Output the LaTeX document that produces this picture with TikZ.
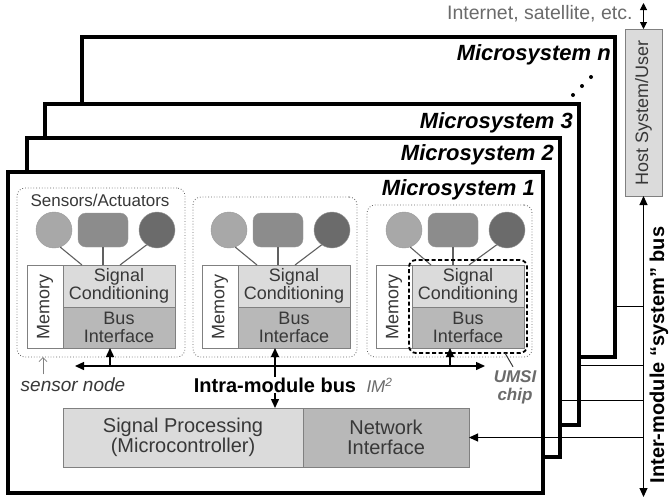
\documentclass[tikz,border=0pt]{standalone}
\usepackage{fontspec}
\setmainfont{Liberation Sans}
\usetikzlibrary{arrows.meta,positioning}
\definecolor{lightcell}{gray}{0.86}
\definecolor{darkcell}{gray}{0.72}
\definecolor{sensa}{gray}{0.66}
\definecolor{sensb}{gray}{0.55}
\definecolor{sensc}{gray}{0.42}
\definecolor{inkgray}{gray}{0.22}
\definecolor{notegray}{gray}{0.42}

\begin{document}
\begin{tikzpicture}[x=1pt,y=-1pt,>={Triangle[length=9pt,width=8pt]},
    frame/.style={draw,line width=3.2pt,fill=white,inner sep=0pt,outer sep=0pt,anchor=north west},
    mslabel/.style={font=\fontsize{22}{22}\selectfont\bfseries\itshape,anchor=east,inner sep=0pt},
    nodebox/.style={draw=gray!80!black,dotted,line width=0.8pt,rounded corners=8pt,inner sep=0pt,outer sep=0pt,anchor=north west},
    cell/.style={draw=gray,inner sep=0pt,outer sep=0pt,anchor=north west,align=center,text=inkgray,
        font=\fontsize{18}{18}\selectfont},
    sensor/.style={draw=gray!80,inner sep=0pt},
    wire/.style={draw=inkgray!80,line width=1.1pt},
    bus/.style={line width=1.4pt},
    link/.style={line width=1pt}]

\useasboundingbox (0,0) rectangle (669,499);

% microsystem frames, back to front
\node[frame,minimum width=533,minimum height=320] (msn) at (82,37) {};
\node[mslabel] at ([xshift=-4pt,yshift=-18pt]msn.north east) {Microsystem n};
\fill (573,95) circle (2) (582,86) circle (2) (591,77) circle (2);
\node[frame,minimum width=534,minimum height=321] (ms3) at (45,104) {};
\node[mslabel] at ([xshift=-6pt,yshift=-19pt]ms3.north east) {Microsystem 3};
\node[frame,minimum width=533,minimum height=319] (ms2) at (27,138) {};
\node[mslabel] at ([xshift=-6pt,yshift=-17pt]ms2.north east) {Microsystem 2};
\node[frame,minimum width=535,minimum height=321] (ms1) at (8,172) {};
\node[mslabel] at ([xshift=-8pt,yshift=-18pt]ms1.north east) {Microsystem 1};

% sensor node 1
\node[nodebox,minimum width=168,minimum height=169] (sn1) at (17,188) {};
\node[text=inkgray,font=\fontsize{17}{17}\selectfont] (sa) at (100,200) {Sensors/Actuators};
\node[sensor,circle,fill=sensa,minimum size=36] (s1a) at (54,230) {};
\node[sensor,rounded corners=8pt,fill=sensb,minimum width=50,minimum height=34] (s1b) at (103,230) {};
\node[sensor,circle,fill=sensc,minimum size=36] (s1c) at (157,230) {};
\node[cell,fill=white,rotate=90,anchor=north east,minimum width=83,minimum height=36] (mem1) at (27,265) {Memory};
\node[cell,fill=lightcell,minimum width=112,minimum height=42] (sc1) at (63,265) {Signal\\Conditioning};
\node[cell,fill=darkcell,minimum width=112,minimum height=41,below=0pt of sc1] (bi1) {Bus\\Interface};
\draw[wire] (s1a.-70) -- ([xshift=19pt]sc1.north west);
\draw[wire] (s1b.south) -- (s1b.south |- sc1.north);
\draw[wire] (s1c.-125) -- ([xshift=57pt]sc1.north west);

% sensor node 2
\node[nodebox,minimum width=164,minimum height=160] (sn2) at (193,197) {};
\node[sensor,circle,fill=sensa,minimum size=36] (s2a) at (229,230) {};
\node[sensor,rounded corners=8pt,fill=sensb,minimum width=50,minimum height=34] (s2b) at (278,230) {};
\node[sensor,circle,fill=sensc,minimum size=36] (s2c) at (332,230) {};
\node[cell,fill=white,rotate=90,anchor=north east,minimum width=83,minimum height=36] (mem2) at (202,265) {Memory};
\node[cell,fill=lightcell,minimum width=112,minimum height=42] (sc2) at (238,265) {Signal\\Conditioning};
\node[cell,fill=darkcell,minimum width=112,minimum height=41,below=0pt of sc2] (bi2) {Bus\\Interface};
\draw[wire] (s2a.-70) -- ([xshift=19pt]sc2.north west);
\draw[wire] (s2b.south) -- (s2b.south |- sc2.north);
\draw[wire] (s2c.-125) -- ([xshift=57pt]sc2.north west);

% sensor node 3 with the UMSI chip
\node[nodebox,minimum width=165,minimum height=152] (sn3) at (367,205) {};
\node[sensor,circle,fill=sensa,minimum size=36] (s3a) at (404,230) {};
\node[sensor,rounded corners=8pt,fill=sensb,minimum width=50,minimum height=34] (s3b) at (453,230) {};
\node[sensor,circle,fill=sensc,minimum size=36] (s3c) at (507,230) {};
\node[cell,fill=white,rotate=90,anchor=north east,minimum width=83,minimum height=36] (mem3) at (376,265) {Memory};
\node[cell,fill=lightcell,minimum width=112,minimum height=42] (sc3) at (412,265) {Signal\\Conditioning};
\node[cell,fill=darkcell,minimum width=112,minimum height=41,below=0pt of sc3] (bi3) {Bus\\Interface};
\draw[wire] (s3a.-70) -- ([xshift=19pt]sc3.north west);
\draw[wire] (s3b.south) -- (s3b.south |- sc3.north);
\draw[wire] (s3c.-125) -- ([xshift=57pt]sc3.north west);
\node[draw,line width=1.8pt,dash pattern=on 4pt off 2.5pt,rounded corners=7pt,inner sep=0pt,outer sep=0pt,
    anchor=north west,minimum width=118,minimum height=93] (umsi) at (409,260) {};

% intra-module bus
\node[cell,fill=lightcell,minimum width=240,minimum height=59,font=\fontsize{20}{20}\selectfont] (sp) at (63,408) {Signal Processing\\(Microcontroller)};
\node[cell,fill=darkcell,minimum width=166,minimum height=59,font=\fontsize{20}{20}\selectfont,right=0pt of sp] (ni) {Network\\Interface};
\coordinate (busl) at (75,366);
\coordinate (busr) at (485,366);
\draw[<->,bus] (busl) -- (busr);
\draw[->,bus] (busl -| 110,0) -- (bi1.south -| 110,0);
\draw[->,bus] (busr -| 450,0) -- (bi3.south -| 450,0);
\draw[<->,bus] (bi2.south -| 275,0) -- (sp.north -| 275,0);
\node[fill=white,inner sep=1pt,font=\fontsize{20}{20}\selectfont\bfseries] (imb) at (275,385) {Intra-module bus};
\node[right=9pt of imb,inner sep=0pt,text=notegray,font=\fontsize{17}{17}\selectfont\itshape] (im2) {IM\textsuperscript{2}};
\node[text=inkgray,font=\fontsize{19}{19}\selectfont\itshape] (snlabel) at (73,385) {sensor node};
\draw[-{Straight Barb[length=4pt,width=8pt]},gray,line width=0.8pt] (snlabel.north -| 43,0) -- (sn1.south -| 43,0);
\node[text=notegray,align=center,font=\fontsize{17}{18}\selectfont\bfseries\itshape] (umsilabel) at (515,387) {UMSI\\chip};
\draw[inkgray,line width=1pt] ([xshift=-22pt]umsi.south east) -- ([xshift=-2pt]umsilabel.north);

% host and inter-module bus
\node[draw=gray,fill=lightcell,rotate=90,anchor=north east,inner sep=0pt,outer sep=0pt,
    minimum width=167,minimum height=37,text=inkgray,font=\fontsize{18}{18}\selectfont] (host) at (625,29) {Host System/User};
\node[anchor=east,text=notegray,font=\fontsize{19.5}{19.5}\selectfont] (inet) at (636,14) {Internet, satellite, etc.};
\draw[{Triangle[length=7pt,width=7pt]}-{Triangle[length=7pt,width=7pt]},link] (host.east |- 0,3) -- (host.east);
\coordinate (busend) at (643,497);
\draw[<->,link] (host.west) -- (host.west |- busend);
\node[rotate=90,inner sep=0pt,font=\fontsize{20}{20}\selectfont\bfseries] (imlabel) at (659,355) {Inter-module ``system'' bus};
\draw[link] (msn.east |- 0,306) -- (host.west |- 0,306);
\draw[link] (ms3.east |- 0,365) -- (host.west |- 0,365);
\draw[link] (ms2.east |- 0,400) -- (host.west |- 0,400);
\draw[<-,link] (ni.east) -- (host.west |- ni.east);
\end{tikzpicture}
\end{document}
